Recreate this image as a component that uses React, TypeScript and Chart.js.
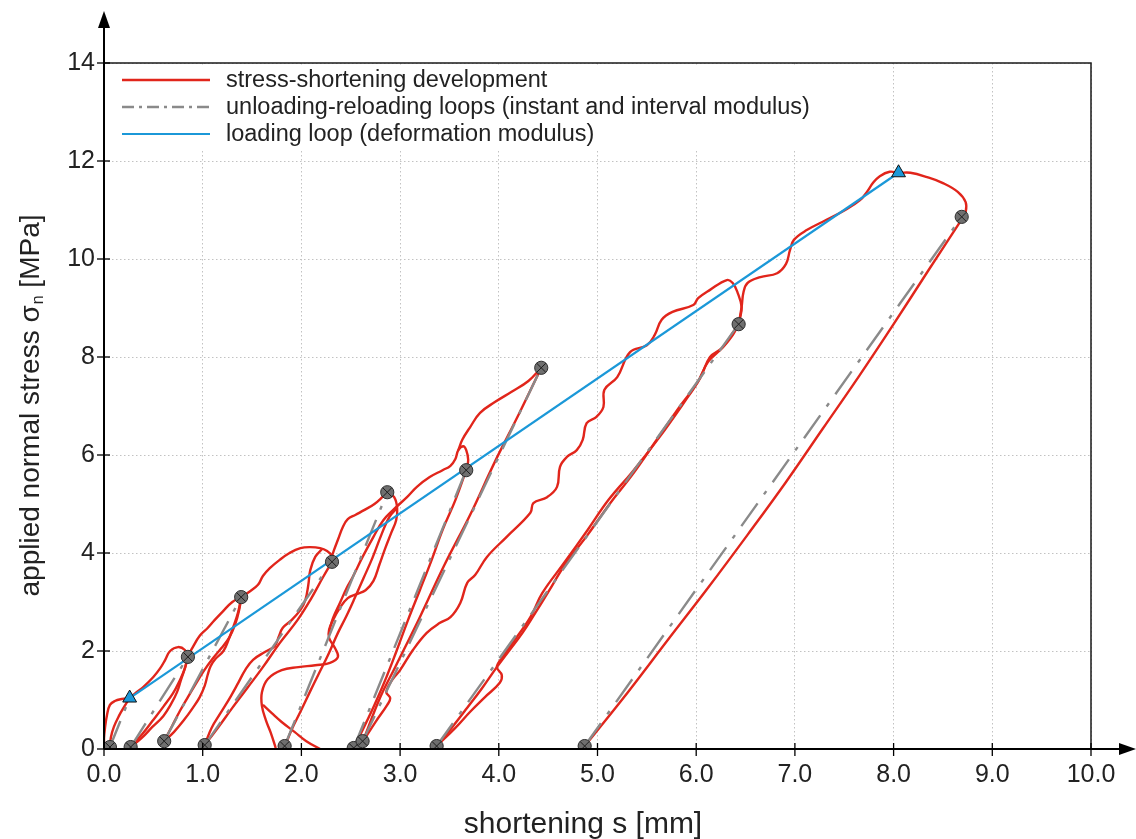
import React, { useEffect, useRef } from "react";
import { Chart, registerables } from "chart.js";

Chart.register(...registerables);

type Pt = [number, number];

// ---- axis ticks ----
const xTickValues = [0, 1, 2, 3, 4, 5, 6, 7, 8, 9, 10];
const yTickValues = [0, 2, 4, 6, 8, 10, 12, 14];

// ---- legend labels ----
const legendLabels = [
  "stress-shortening development",
  "unloading-reloading loops (instant and interval modulus)",
  "loading loop (deformation modulus)",
];

// ---- red stress-shortening development (shortening mm, stress MPa) ----
const redInitialLoad: Pt[] = [[0, 0], [0, 0.22], [0.01, 0.43], [0.03, 0.69], [0.06, 0.9], [0.11, 0.98], [0.18, 1.02], [0.26, 1.04]];
const redLoop1Unload: Pt[] = [[0.26, 1.04], [0.21, 0.88], [0.15, 0.67], [0.1, 0.45], [0.07, 0.24], [0.06, 0.04]];
const redLoop2Load: Pt[] = [[0.26, 1.04], [0.33, 1.16], [0.4, 1.27], [0.5, 1.47], [0.57, 1.65], [0.62, 1.82], [0.67, 2.0], [0.75, 2.08], [0.82, 2.02], [0.85, 1.88]];
const redLoop2Unload: Pt[] = [[0.85, 1.88], [0.82, 1.65], [0.77, 1.41], [0.7, 1.14], [0.6, 0.86], [0.49, 0.57], [0.39, 0.31], [0.27, 0.04]];
const redLoop2Reload: Pt[] = [[0.27, 0.04], [0.38, 0.22], [0.49, 0.45], [0.6, 0.67], [0.68, 0.92], [0.74, 1.16], [0.78, 1.41], [0.82, 1.65], [0.85, 1.88], [0.9, 2.08], [0.97, 2.31], [1.05, 2.47], [1.12, 2.63], [1.2, 2.8], [1.3, 3.0], [1.39, 3.1]];
const redLoop3Unload: Pt[] = [[1.39, 3.1], [1.37, 2.84], [1.33, 2.55], [1.27, 2.28], [1.19, 2.06], [1.1, 1.84], [1.01, 1.59], [0.93, 1.33], [0.85, 1.06], [0.77, 0.78], [0.69, 0.47], [0.61, 0.16]];
const redLoop3Reload: Pt[] = [[0.61, 0.16], [0.71, 0.35], [0.81, 0.59], [0.9, 0.84], [0.97, 1.06], [1.02, 1.29], [1.05, 1.51], [1.08, 1.69], [1.13, 1.84], [1.21, 2.0], [1.26, 2.22], [1.31, 2.49], [1.36, 2.8], [1.39, 3.1]];
const redLoop4Load: Pt[] = [[1.39, 3.1], [1.48, 3.22], [1.56, 3.35], [1.61, 3.53], [1.68, 3.69], [1.78, 3.86], [1.88, 4.0], [1.99, 4.1], [2.09, 4.12], [2.19, 4.1], [2.26, 4.04], [2.31, 3.94], [2.31, 3.82]];
const redLoop4Unload: Pt[] = [[2.21, 4.08], [2.14, 3.92], [2.09, 3.65], [2.07, 3.35], [2.04, 3.04], [1.99, 2.84], [1.9, 2.63], [1.81, 2.47], [1.77, 2.29], [1.73, 2.1], [1.63, 1.98], [1.51, 1.82], [1.43, 1.61], [1.36, 1.35], [1.28, 1.06], [1.18, 0.73], [1.09, 0.43], [1.02, 0.08]];
const redLoop4Reload: Pt[] = [[1.02, 0.08], [1.16, 0.45], [1.3, 0.84], [1.45, 1.24], [1.61, 1.67], [1.78, 2.16], [1.96, 2.63], [2.09, 3.04], [2.22, 3.51], [2.31, 3.82]];
const redLoop5Load: Pt[] = [[2.31, 3.94], [2.33, 4.06], [2.37, 4.27], [2.42, 4.53], [2.47, 4.69], [2.55, 4.78], [2.64, 4.88], [2.74, 5.0], [2.82, 5.14], [2.87, 5.24]];
const redLoop5Unload: Pt[] = [[2.87, 5.24], [2.94, 5.14], [2.97, 4.92], [2.96, 4.67], [2.91, 4.41], [2.85, 4.1], [2.79, 3.76], [2.73, 3.43], [2.65, 3.24], [2.56, 3.16], [2.47, 3.08], [2.39, 2.88], [2.32, 2.63], [2.28, 2.43], [2.28, 2.27], [2.34, 2.06], [2.37, 1.88], [2.29, 1.76], [2.14, 1.71], [1.97, 1.67], [1.8, 1.61], [1.66, 1.43], [1.6, 1.16], [1.6, 0.88], [1.64, 0.59], [1.69, 0.33], [1.74, 0.02]];
const redLoop5Branch: Pt[] = [[1.61, 0.9], [1.7, 0.73], [1.8, 0.55], [1.93, 0.35], [2.05, 0.16], [2.19, 0]];
const redLoop5Reload: Pt[] = [[1.83, 0.04], [1.9, 0.39], [1.99, 0.76], [2.08, 1.14], [2.17, 1.51], [2.27, 1.92], [2.37, 2.37], [2.46, 2.73], [2.54, 3.08], [2.63, 3.49], [2.72, 3.9], [2.81, 4.37], [2.89, 4.73], [2.97, 4.92]];
const redLoop6Load: Pt[] = [[2.28, 2.39], [2.32, 2.67], [2.39, 2.98], [2.46, 3.29], [2.52, 3.51], [2.62, 3.92], [2.73, 4.33], [2.83, 4.67], [2.93, 4.88], [3.07, 5.14], [3.17, 5.35], [3.3, 5.55], [3.43, 5.69], [3.51, 5.78], [3.56, 5.92], [3.59, 6.1], [3.64, 6.18], [3.67, 6.1], [3.69, 5.9], [3.67, 5.69]];
const redLoop6Unload: Pt[] = [[3.67, 5.69], [3.56, 5.08], [3.43, 4.47], [3.32, 3.86], [3.2, 3.24], [3.08, 2.63], [2.96, 1.98], [2.85, 1.41], [2.74, 0.9], [2.63, 0.43], [2.53, 0.02]];
const redLoop7Load: Pt[] = [[3.59, 6.1], [3.63, 6.31], [3.71, 6.57], [3.81, 6.86], [3.96, 7.08], [4.13, 7.29], [4.3, 7.51], [4.43, 7.78]];
const redLoop7Unload: Pt[] = [[4.43, 7.78], [4.2, 6.82], [3.96, 5.86], [3.71, 4.78], [3.45, 3.76], [3.2, 2.69], [2.95, 1.67], [2.8, 1.06], [2.62, 0.14]];
const redLoop8Load: Pt[] = [[2.62, 0.14], [2.75, 0.55], [2.87, 0.9], [2.9, 1.04], [2.86, 1.16], [2.92, 1.41], [3.0, 1.61], [3.13, 2.02], [3.27, 2.37], [3.4, 2.57], [3.51, 2.69], [3.61, 2.98], [3.68, 3.39], [3.76, 3.55], [3.88, 3.92], [4.08, 4.33], [4.32, 4.82], [4.35, 5.02], [4.49, 5.14], [4.59, 5.35], [4.62, 5.76], [4.69, 5.96], [4.79, 6.1], [4.85, 6.31], [4.89, 6.65], [4.99, 6.78], [5.06, 6.98], [5.07, 7.33], [5.2, 7.59], [5.33, 8.1], [5.5, 8.24], [5.58, 8.45], [5.65, 8.76], [5.76, 8.92], [5.97, 9.06], [6.02, 9.2], [6.14, 9.37], [6.31, 9.57], [6.37, 9.51], [6.42, 9.31], [6.46, 9.02], [6.44, 8.76], [6.43, 8.67]];
const redLoop8Unload: Pt[] = [[6.43, 8.67], [6.37, 8.45], [6.26, 8.18], [6.14, 8.0], [6.04, 7.57], [5.88, 7.08], [5.63, 6.37], [5.35, 5.65], [5.11, 5.08], [4.9, 4.47], [4.67, 3.82], [4.44, 3.18], [4.32, 2.69], [4.16, 2.22], [4.04, 1.88], [3.98, 1.67], [4.03, 1.51], [4.01, 1.35], [3.86, 1.06], [3.71, 0.76], [3.56, 0.43], [3.37, 0.06]];
const redLoop8Reload: Pt[] = [[3.37, 0.06], [3.53, 0.45], [3.68, 0.84], [3.83, 1.24], [3.98, 1.67], [4.11, 2.02], [4.24, 2.37], [4.37, 2.78], [4.5, 3.2], [4.67, 3.76], [4.9, 4.37], [5.13, 5.02], [5.35, 5.59], [5.6, 6.31], [5.83, 6.98], [6.01, 7.47], [6.12, 7.9], [6.27, 8.2], [6.37, 8.49], [6.43, 8.67]];
const redLoop9Load: Pt[] = [[6.43, 8.67], [6.46, 9.02], [6.48, 9.33], [6.52, 9.51], [6.65, 9.63], [6.82, 9.71], [6.91, 9.9], [6.95, 10.18], [6.99, 10.39], [7.12, 10.59], [7.32, 10.8], [7.51, 11.0], [7.66, 11.2], [7.73, 11.37], [7.79, 11.55], [7.86, 11.69], [7.96, 11.78], [8.05, 11.76], [8.17, 11.76], [8.34, 11.67], [8.5, 11.55], [8.65, 11.37], [8.73, 11.16], [8.73, 10.96], [8.7, 10.84]];
const redLoop9Cycle: Pt[] = [[8.7, 10.84], [8.35, 9.76], [8.0, 8.67], [7.65, 7.61], [7.28, 6.53], [6.91, 5.45], [6.52, 4.37], [6.12, 3.29], [5.71, 2.22], [5.3, 1.14], [4.87, 0.06]];

// ---- loop end markers (circles) ----
const markerX = [0.06, 0.27, 0.61, 0.85, 1.02, 1.39, 1.83, 2.31, 2.53, 2.62, 2.87, 3.37, 3.67, 4.43, 4.87, 6.43, 8.69];
const markerY = [0.04, 0.04, 0.16, 1.88, 0.08, 3.1, 0.06, 3.82, 0.02, 0.16, 5.24, 0.06, 5.69, 7.78, 0.06, 8.67, 10.86];

// ---- loading loop (triangles + blue line) ----
const loadingX = [0.26, 8.05];
const loadingY = [1.04, 11.76];

// ---- unloading-reloading loops (grey dash-dot) ----
const loopBottomX = [0.06, 0.27, 0.61, 1.02, 1.83, 2.53, 2.62, 3.37, 4.87];
const loopBottomY = [0.04, 0.04, 0.16, 0.08, 0.06, 0.02, 0.16, 0.06, 0.06];
const loopTopX = [0.26, 0.85, 1.39, 2.31, 2.87, 3.67, 4.43, 6.43, 8.69];
const loopTopY = [1.04, 1.88, 3.1, 3.82, 5.24, 5.69, 7.78, 8.67, 10.86];

const redPaths: Pt[][] = [
  redInitialLoad, redLoop1Unload, redLoop2Load, redLoop2Unload, redLoop2Reload,
  redLoop3Unload, redLoop3Reload, redLoop4Load, redLoop4Unload, redLoop4Reload,
  redLoop5Load, redLoop5Unload, redLoop5Branch, redLoop5Reload, redLoop6Load,
  redLoop6Unload, redLoop7Load, redLoop7Unload, redLoop8Load, redLoop8Unload,
  redLoop8Reload, redLoop9Load, redLoop9Cycle,
];

const RED = "#e1251b";
const GRAY = "#8a8a8a";
const BLUE = "#1b98d8";
const TXT = "#222222";
const FONT = "'Liberation Sans', Arial, sans-serif";
const GRAY_DASH = [28, 11, 4, 11];

const toXY = (p: Pt[]) => p.map(([x, y]) => ({ x, y }));

const decorPlugin = {
  id: "decor",
  afterDraw(chart: any) {
    const ctx: CanvasRenderingContext2D = chart.ctx;
    const ca = chart.chartArea;
    const xs = chart.scales.x;
    const ys = chart.scales.y;
    ctx.save();
    // frame (top + right)
    ctx.strokeStyle = "#1a1a1a";
    ctx.lineWidth = 1.5;
    ctx.setLineDash([]);
    ctx.beginPath();
    ctx.moveTo(ca.left, ca.top);
    ctx.lineTo(ca.right, ca.top);
    ctx.lineTo(ca.right, ca.bottom);
    ctx.stroke();
    // axes with arrows
    ctx.lineWidth = 2;
    ctx.strokeStyle = "#000";
    ctx.beginPath();
    ctx.moveTo(ca.left, ca.bottom);
    ctx.lineTo(ca.left, 24);
    ctx.stroke();
    ctx.beginPath();
    ctx.moveTo(ca.left, ca.bottom);
    ctx.lineTo(1124, ca.bottom);
    ctx.stroke();
    ctx.fillStyle = "#000";
    ctx.beginPath();
    ctx.moveTo(ca.left, 11);
    ctx.lineTo(ca.left - 6, 28);
    ctx.lineTo(ca.left + 6, 28);
    ctx.closePath();
    ctx.fill();
    ctx.beginPath();
    ctx.moveTo(1136, ca.bottom);
    ctx.lineTo(1119, ca.bottom - 6);
    ctx.lineTo(1119, ca.bottom + 6);
    ctx.closePath();
    ctx.fill();
    // tick marks crossing the axes
    ctx.lineWidth = 1.3;
    for (const v of xTickValues) {
      const px = xs.getPixelForValue(v);
      ctx.beginPath();
      ctx.moveTo(px, ca.bottom - 6);
      ctx.lineTo(px, ca.bottom + 7);
      ctx.stroke();
    }
    for (const v of yTickValues) {
      const py = ys.getPixelForValue(v);
      ctx.beginPath();
      ctx.moveTo(ca.left - 7, py);
      ctx.lineTo(ca.left + 6, py);
      ctx.stroke();
    }
    // legend
    ctx.fillStyle = "#fff";
    ctx.fillRect(ca.left + 6, ca.top + 4, 720, 82);
    const styles = [
      { color: RED, dash: [] as number[], width: 2.4 },
      { color: GRAY, dash: [12, 5, 3, 5], width: 2.4 },
      { color: BLUE, dash: [] as number[], width: 2.2 },
    ];
    ctx.font = `23.5px ${FONT}`;
    ctx.textBaseline = "middle";
    ctx.textAlign = "left";
    legendLabels.forEach((label, i) => {
      const y = ca.top + 17 + i * 27;
      const s = styles[i];
      ctx.strokeStyle = s.color;
      ctx.lineWidth = s.width;
      ctx.setLineDash(s.dash);
      ctx.beginPath();
      ctx.moveTo(ca.left + 18, y);
      ctx.lineTo(ca.left + 106, y);
      ctx.stroke();
      ctx.setLineDash([]);
      ctx.fillStyle = TXT;
      ctx.fillText(label, ca.left + 122, y + 1);
    });
    // x axis title
    ctx.font = `30px ${FONT}`;
    ctx.fillStyle = TXT;
    ctx.textAlign = "center";
    ctx.textBaseline = "middle";
    ctx.fillText("shortening s [mm]", 583, 825);
    // y axis title with subscript
    ctx.save();
    ctx.translate(31, (ca.top + ca.bottom) / 2);
    ctx.rotate(-Math.PI / 2);
    const p1 = "applied normal stress σ";
    const p2 = "n";
    const p3 = " [MPa]";
    const big = `28px ${FONT}`;
    const small = `16px ${FONT}`;
    ctx.font = big;
    const w1 = ctx.measureText(p1).width;
    const w3 = ctx.measureText(p3).width;
    ctx.font = small;
    const w2 = ctx.measureText(p2).width;
    const x0 = -(w1 + w2 + w3) / 2;
    ctx.textAlign = "left";
    ctx.textBaseline = "middle";
    ctx.font = big;
    ctx.fillText(p1, x0, 0);
    ctx.font = small;
    ctx.fillText(p2, x0 + w1 + 1, 8);
    ctx.font = big;
    ctx.fillText(p3, x0 + w1 + w2 + 1, 0);
    ctx.restore();
    ctx.restore();
  },
};

export default function App() {
  const ref = useRef<HTMLCanvasElement | null>(null);

  useEffect(() => {
    const canvas = ref.current;
    if (!canvas) return;
    const datasets: any[] = [];
    const markerData = markerX.map((x, i) => ({ x, y: markerY[i] }));
    datasets.push({
      label: "marker-cross",
      data: markerData,
      showLine: false,
      pointStyle: "crossRot",
      pointRadius: 6.4,
      pointBorderColor: "#1e1e1e",
      pointBackgroundColor: "rgba(0,0,0,0)",
      pointBorderWidth: 1,
      order: 0,
    });
    datasets.push({
      label: "marker",
      data: markerData,
      showLine: false,
      pointStyle: "circle",
      pointRadius: 6.6,
      pointBackgroundColor: "#6f6f6f",
      pointBorderColor: "#2e2e2e",
      pointBorderWidth: 1,
      order: 1,
    });
    datasets.push({
      label: "triangles",
      data: loadingX.map((x, i) => ({ x, y: loadingY[i] })),
      showLine: false,
      pointStyle: "triangle",
      pointRadius: 8,
      pointBackgroundColor: BLUE,
      pointBorderColor: "#111",
      pointBorderWidth: 1,
      order: 1,
    });
    datasets.push({
      label: legendLabels[2],
      data: loadingX.map((x, i) => ({ x, y: loadingY[i] })),
      showLine: true,
      borderColor: BLUE,
      borderWidth: 2.2,
      pointRadius: 0,
      order: 2,
    });
    loopBottomX.forEach((bx, i) => {
      datasets.push({
        label: legendLabels[1],
        data: [
          { x: bx, y: loopBottomY[i] },
          { x: loopTopX[i], y: loopTopY[i] },
        ],
        showLine: true,
        borderColor: GRAY,
        borderWidth: 2.4,
        borderDash: GRAY_DASH,
        pointRadius: 0,
        order: 3,
      });
    });
    redPaths.forEach((p) => {
      datasets.push({
        label: legendLabels[0],
        data: toXY(p),
        showLine: true,
        borderColor: RED,
        borderWidth: 2.4,
        tension: 0.4,
        pointRadius: 0,
        order: 4,
      });
    });

    const tickFont = { family: FONT, size: 25 };
    const chart = new Chart(canvas, {
      type: "scatter",
      data: { datasets },
      options: {
        responsive: false,
        animation: false,
        devicePixelRatio: 1,
        events: [],
        layout: { padding: { top: 63, right: 45, bottom: 0, left: 0 } },
        plugins: { legend: { display: false }, tooltip: { enabled: false } },
        scales: {
          x: {
            type: "linear",
            min: 0,
            max: 10,
            afterFit: (s: any) => {
              s.height = 90;
            },
            ticks: {
              stepSize: 1,
              autoSkip: false,
              maxRotation: 0,
              padding: 11,
              color: TXT,
              font: tickFont,
              callback: (v: any) => Number(v).toFixed(1),
            },
            grid: { color: "#c2c2c2", lineWidth: 1, drawTicks: false },
            border: { display: false, dash: [1.5, 2.5] },
          },
          y: {
            type: "linear",
            min: 0,
            max: 14,
            afterFit: (s: any) => {
              s.width = 104;
            },
            ticks: {
              stepSize: 2,
              autoSkip: false,
              padding: 9,
              color: TXT,
              font: tickFont,
              callback: (v: any) => String(v),
            },
            grid: { color: "#c2c2c2", lineWidth: 1, drawTicks: false },
            border: { display: false, dash: [1.5, 2.5] },
          },
        },
      },
      plugins: [decorPlugin],
    });
    return () => chart.destroy();
  }, []);

  return (
    <div style={{ position: "absolute", left: 0, top: 0, width: 1136, height: 839, background: "#fff" }}>
      <canvas ref={ref} width={1136} height={839} style={{ display: "block" }} />
    </div>
  );
}
